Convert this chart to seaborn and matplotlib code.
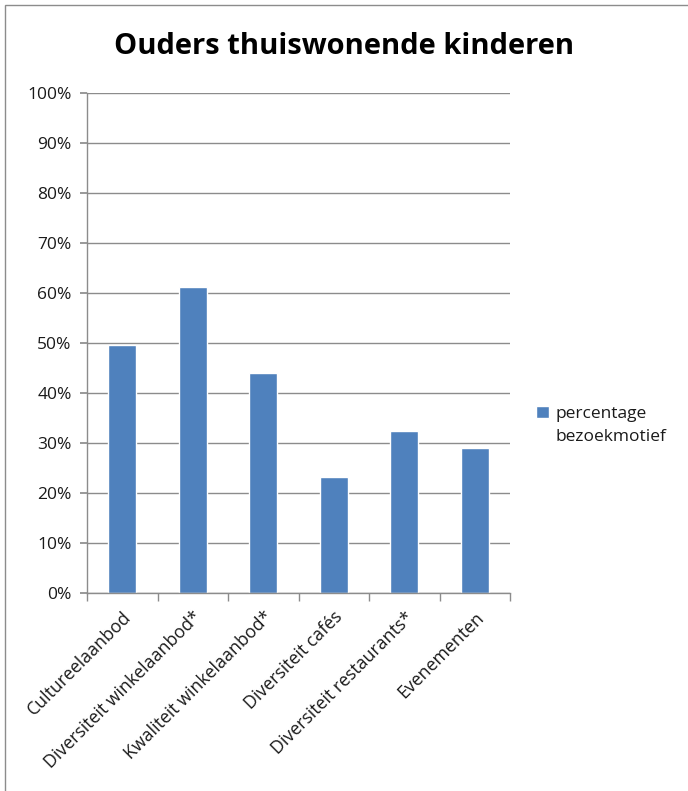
import matplotlib
matplotlib.use("Agg")
import matplotlib.pyplot as plt
import seaborn as sns
import pandas as pd
from matplotlib.patches import Rectangle
from matplotlib.ticker import FixedLocator, PercentFormatter

categories = ["Cultureelaanbod", "Diversiteit winkelaanbod*", "Kwaliteit winkelaanbod*",
              "Diversiteit cafés", "Diversiteit restaurants*", "Evenementen"]
values = [49.6, 61.2, 44.0, 23.3, 32.5, 29.0]
series_name = "percentage\nbezoekmotief"
title = "Ouders thuiswonende kinderen"

sns.set_theme(style="white")
plt.rcParams['font.family'] = ['Open Sans', 'DejaVu Sans']

df = pd.DataFrame({"cat": categories, "val": values, "s": series_name})

fig = plt.figure(figsize=(6.88, 7.91), dpi=100)
ax = fig.add_axes([87/688, 1-593/791, (510-87)/688, (593-93)/791])

sns.barplot(data=df, x="cat", y="val", hue="s", palette=["#4F81BD"], width=0.4,
            ax=ax, legend=True, saturation=1)

ax.set_ylim(0, 100)
ax.set_xlim(-0.5, len(categories) - 0.5)
ax.set_yticks(range(0, 101, 10))
ax.yaxis.set_major_formatter(PercentFormatter(decimals=0))
ax.grid(axis="y", color="#8c8c8c", linewidth=1)
ax.set_axisbelow(True)
for s in ["top", "right"]:
    ax.spines[s].set_visible(False)
for s in ["left", "bottom"]:
    ax.spines[s].set_color("#8c8c8c")
    ax.spines[s].set_linewidth(1)

ax.set_xlabel("")
ax.set_ylabel("")
ax.tick_params(axis="y", which="major", left=True, length=5, color="#8c8c8c",
               labelsize=12.5, pad=6, labelcolor="#1a1a1a")
ax.tick_params(axis="x", which="major", bottom=False, labelsize=12.8, pad=5,
               labelcolor="#1a1a1a")
ax.xaxis.set_minor_locator(FixedLocator([i - 0.5 for i in range(len(categories) + 1)]))
ax.tick_params(axis="x", which="minor", bottom=True, length=6, color="#8c8c8c")
plt.setp(ax.get_xticklabels(), rotation=45, ha="right", rotation_mode="anchor")

leg = ax.legend(loc="upper left", bbox_to_anchor=(536/688, 1-406/791),
                bbox_transform=fig.transFigure, frameon=False, fontsize=12.5,
                handlelength=0.75, handleheight=0.75, handletextpad=0.35,
                borderpad=0, borderaxespad=0)
for t in leg.get_texts():
    t.set_linespacing(1.55)
    t.set_color("#1a1a1a")
for h in leg.legend_handles:
    h.set_y(h.get_y() + 9.5)

fig.text(0.5, 1-47/791, title, ha="center", va="center", fontsize=21,
         fontweight="bold", color="#000000")

fig.patches.append(Rectangle((5/688, -0.1), 1.2, 1 - 5/791 + 0.1, transform=fig.transFigure,
                             fill=False, edgecolor="#8c8c8c", linewidth=1))

fig.savefig("out.png", dpi=100)
